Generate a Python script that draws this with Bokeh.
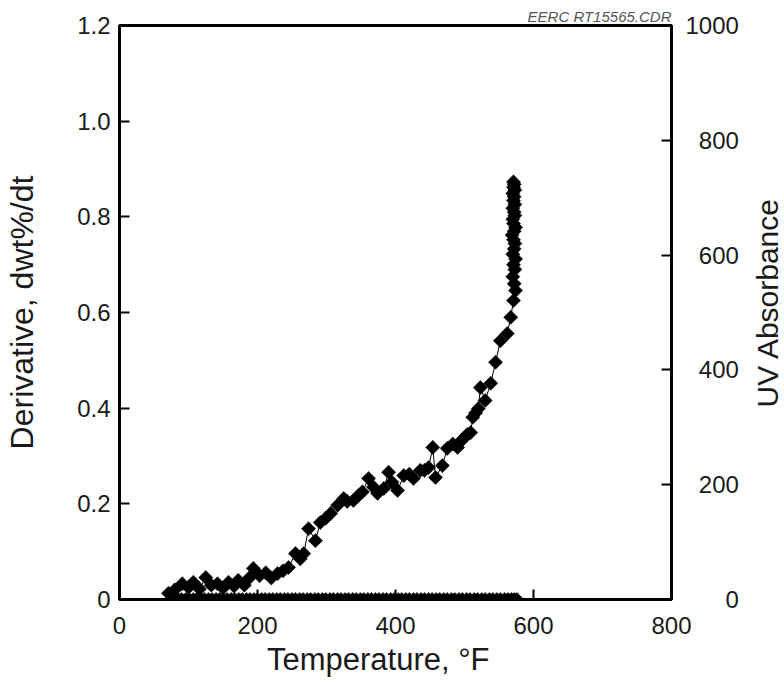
import math
from bokeh.plotting import figure
from bokeh.layouts import row
from bokeh.models import Range1d, LinearAxis, FixedTicker, CustomJSTickFormatter, Div
from bokeh.embed import file_html
from bokeh.resources import INLINE

# ---------------- data ----------------
x_ticks = [0, 200, 400, 600, 800]
y_ticks = [0, 0.2, 0.4, 0.6, 0.8, 1.0, 1.2]
uv_ticks = [0, 200, 400, 600, 800, 1000]

deriv_temp = [71, 80, 91, 100, 107, 116, 125, 133, 142, 150, 158, 166, 172, 181, 188,
              194, 203, 212, 220, 229, 237, 245, 255, 262, 267, 274, 284, 291, 299, 306,
              316, 325, 330, 339, 346, 352, 361, 368, 374, 383, 390, 395, 403, 412, 420,
              426, 436, 442, 448, 454, 458, 468, 475, 483, 490, 494, 499, 504, 509, 512,
              516, 520, 523, 530, 538, 545, 552, 562, 567, 571, 574,
              572, 570, 573, 571, 574, 570, 572, 573, 571, 569, 572, 574, 571, 570, 573,
              572, 570, 573, 571, 572, 570, 573, 571, 572, 571]
deriv_value = [0.013, 0.020, 0.033, 0.025, 0.036, 0.022, 0.046, 0.030, 0.033, 0.024,
               0.036, 0.028, 0.040, 0.030, 0.045, 0.065, 0.050, 0.056, 0.045, 0.054,
               0.060, 0.067, 0.096, 0.085, 0.096, 0.148, 0.123, 0.161, 0.170, 0.180,
               0.197, 0.211, 0.205, 0.207, 0.217, 0.225, 0.253, 0.235, 0.222, 0.232,
               0.266, 0.245, 0.228, 0.259, 0.262, 0.253, 0.270, 0.270, 0.276, 0.318,
               0.255, 0.280, 0.316, 0.325, 0.318, 0.330, 0.337, 0.345, 0.349, 0.381,
               0.390, 0.399, 0.443, 0.416, 0.452, 0.496, 0.541, 0.556, 0.590, 0.625,
               0.646,
               0.660, 0.675, 0.690, 0.700, 0.712, 0.722, 0.733, 0.744, 0.752, 0.762,
               0.770, 0.778, 0.786, 0.795, 0.803, 0.810, 0.818, 0.826, 0.834, 0.842,
               0.849, 0.856, 0.862, 0.868, 0.873]

uv_temp = [74, 79, 85, 90, 96, 101, 107, 112, 118, 123, 129, 134, 140, 145, 151, 156,
           162, 167, 173, 178, 184, 189, 195, 200, 206, 211, 217, 222, 228, 233, 239,
           244, 250, 255, 261, 266, 272, 277, 283, 288, 294, 299, 305, 310, 316, 321,
           327, 332, 338, 343, 349, 354, 360, 365, 371, 376, 382, 387, 393, 398, 404,
           409, 415, 420, 426, 431, 437, 442, 448, 453, 459, 464, 470, 475, 481, 486,
           492, 497, 503, 508, 514, 519, 525, 530, 536, 541, 547, 552, 558, 563, 568,
           572, 576]
uv_value = [0, 0, 0, 0, 0, 0, 0, 0, 0, 0, 0, 0, 0, 0, 0, 0,
            0, 0, 0, 0, 0, 0, 0, 0, 0, 0, 0, 0, 0, 0, 0,
            0, 0, 0, 0, 0, 0, 0, 0, 0, 0, 0, 0, 0, 0, 0,
            0, 0, 0, 0, 0, 0, 0, 0, 0, 0, 0, 0, 0, 0, 0,
            0, 0, 0, 0, 0, 0, 0, 0, 0, 0, 0, 0, 0, 0, 0,
            0, 0, 0, 0, 0, 0, 0, 0, 0, 0, 0, 0, 0, 0, 0,
            0, 0]

FONT = "Liberation Sans"
TXT = "#1a1a1a"

p = figure(width=745, height=683, output_backend="svg", toolbar_location=None,
           x_range=Range1d(x_ticks[0], x_ticks[-1]),
           y_range=Range1d(y_ticks[0], y_ticks[-1]),
           min_border_left=119, min_border_right=74, min_border_top=25,
           min_border_bottom=84)
p.extra_y_ranges = {"uv": Range1d(uv_ticks[0], uv_ticks[-1])}
p.grid.visible = False
p.outline_line_color = "black"
p.outline_line_width = 3
p.background_fill_color = "white"
p.border_fill_color = "white"

p.title.text = "EERC RT15565.CDR"
p.title.align = "right"
p.title.text_font = FONT
p.title.text_font_size = "15px"
p.title.text_font_style = "italic"
p.title.text_color = "#555555"
p.title.standoff = 1


def style(ax, label_size):
    ax.major_tick_in = 10
    ax.major_tick_out = 0
    ax.minor_tick_line_color = None
    ax.major_tick_line_width = 2
    ax.axis_line_width = 3
    ax.axis_line_color = "black"
    ax.major_tick_line_color = "black"
    ax.major_label_text_font = FONT
    ax.major_label_text_font_size = "24px"
    ax.major_label_text_color = TXT
    ax.axis_label_text_font = FONT
    ax.axis_label_text_font_size = label_size
    ax.axis_label_text_font_style = "normal"
    ax.axis_label_text_color = TXT


xa = p.xaxis[0]
style(xa, "31px")
xa.ticker = FixedTicker(ticks=x_ticks)
# the title sits a little left of the frame centre in the original
xa.axis_label = "Temperature, °F\u2007\u2007"
xa.major_label_standoff = 17
xa.axis_label_standoff = 5

ya = p.yaxis[0]
style(ya, "32px")
ya.ticker = FixedTicker(ticks=y_ticks)
ya.formatter = CustomJSTickFormatter(code="return tick == 0 ? '0' : tick.toFixed(1);")
ya.axis_label = "Derivative, dwt%/dt"
ya.major_label_standoff = 9
ya.axis_label_standoff = 34

ra = LinearAxis(y_range_name="uv")
style(ra, "30px")
ra.ticker = FixedTicker(ticks=uv_ticks)
# right-aligned numbers: pad with figure spaces (same width as a digit)
widest = max(len(str(v)) for v in uv_ticks)
ra.major_label_overrides = {v: "\u2007" * (widest - len(str(v))) + str(v) for v in uv_ticks}
ra.major_label_standoff = 14
p.add_layout(ra, "right")

# right-hand axis title, reading bottom to top
uv_title = Div(
    text=("<div style=\"writing-mode: vertical-rl; transform: rotate(180deg); "
          "margin-top: 199px; margin-left: 8px; font-family: 'Liberation Sans'; "
          "font-size: 30px; line-height: 30px; color: #1a1a1a; white-space: nowrap;\">"
          "UV Absorbance</div>"),
    width=39, height=683, margin=0)

# data
p.line(deriv_temp[:71], deriv_value[:71], line_color="black", line_width=1)
p.scatter(deriv_temp, deriv_value, marker="square", size=10, angle=math.pi / 4,
          fill_color="black", line_color="black", line_width=0.5)
p.scatter(uv_temp, uv_value, y_range_name="uv", marker="square", size=10,
          angle=math.pi / 4, fill_color="black", line_color="black", line_width=0.5)

layout = row(p, uv_title, spacing=0)
open("out.html", "w").write(file_html(layout, INLINE))
